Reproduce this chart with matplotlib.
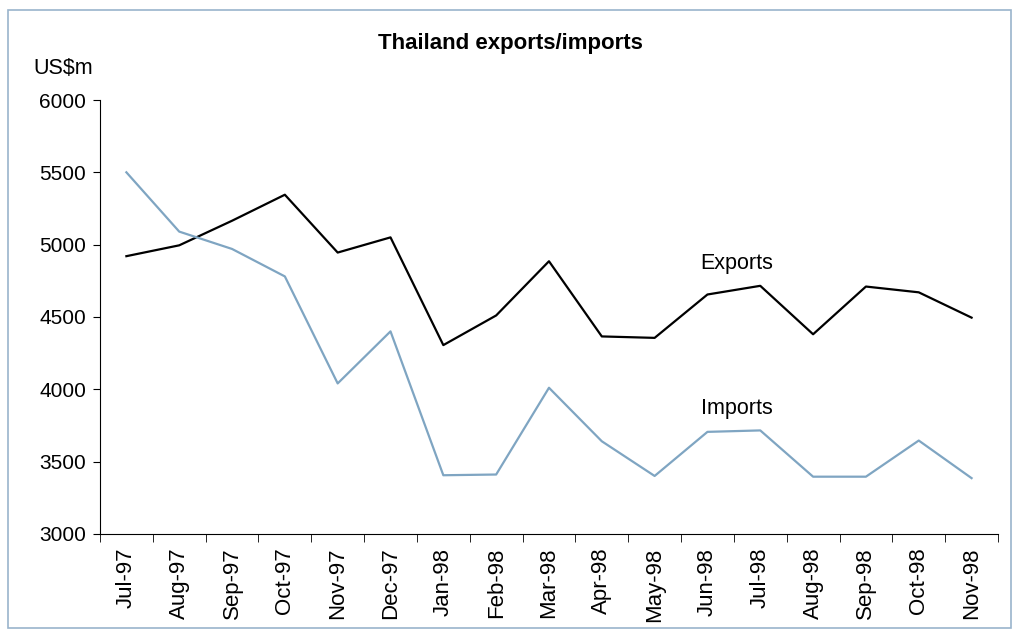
import numpy as np
import matplotlib
matplotlib.use('Agg')
import matplotlib.pyplot as plt
from matplotlib.patches import Rectangle

months = ['Jul-97', 'Aug-97', 'Sep-97', 'Oct-97', 'Nov-97', 'Dec-97', 'Jan-98', 'Feb-98',
          'Mar-98', 'Apr-98', 'May-98', 'Jun-98', 'Jul-98', 'Aug-98', 'Sep-98', 'Oct-98', 'Nov-98']
exports = [4920, 4995, 5165, 5345, 4945, 5050, 4305, 4510, 4885, 4365, 4355, 4655, 4715,
           4380, 4710, 4670, 4495]
imports = [5500, 5090, 4970, 4780, 4040, 4400, 3405, 3410, 4010, 3640, 3400, 3705, 3715,
           3395, 3395, 3645, 3385]

plt.rcParams['font.family'] = ['Liberation Sans', 'DejaVu Sans']

fig = plt.figure(figsize=(10.17, 6.37), dpi=100)
ax = fig.add_axes([0.0983, 0.162, 0.883, 0.681])

x = np.arange(len(months))
ax.plot(x, exports, color='black', lw=1.6)
ax.plot(x, imports, color='#7fa5c2', lw=1.6)

ax.text(11.55, 4870, 'Exports', fontsize=15.5, ha='center', va='center')
ax.text(11.55, 3870, 'Imports', fontsize=15.5, ha='center', va='center')

ax.set_xlim(-0.5, len(months) - 0.5)
ax.set_ylim(3000, 6000)
ax.set_yticks(range(3000, 6001, 500))
ax.set_xticks(x)
ax.set_xticklabels(months, rotation=90)
ax.set_xticks(np.arange(-0.5, len(months)), minor=True)
ax.tick_params(axis='x', which='major', length=0, labelsize=16, pad=10)
ax.tick_params(axis='x', which='minor', length=6, direction='out')
ax.tick_params(axis='y', length=5, labelsize=15, pad=5)

for s in ['top', 'right']:
    ax.spines[s].set_visible(False)

fig.text(0.502, 0.932, 'Thailand exports/imports', fontsize=16, fontweight='bold',
         ha='center', va='center')
fig.text(0.062, 0.893, 'US$m', fontsize=15.5, ha='center', va='center')

fig.patches.append(Rectangle((0.008, 0.014), 0.986, 0.97, transform=fig.transFigure,
                             fill=False, edgecolor='#9ab4cc', lw=1.2))

fig.savefig('out.png', dpi=100, facecolor='white')
